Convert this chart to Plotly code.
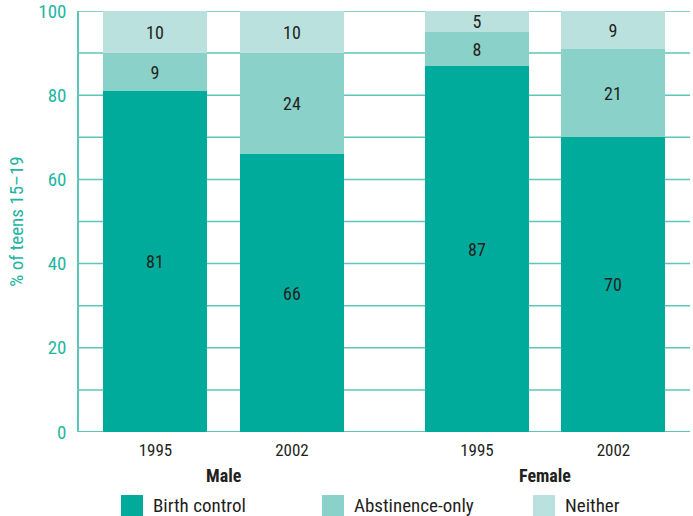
import plotly.graph_objects as go

years = ["1995", "2002", "1995", "2002"]
groups = ["Male", "Female"]
birth_control = [81, 66, 87, 70]
abstinence_only = [9, 24, 8, 21]
neither = [10, 10, 5, 9]
series_names = ["Birth control", "Abstinence-only", "Neither"]
y_ticks = [0, 20, 40, 60, 80, 100]

# layout constants
xpos = [0, 1, 2.355, 3.355]
colors = ["#00ab9b", "#8ad2c9", "#bae1de"]
teal = "#1fb5a3"
grid = "#5cc6b8"
FONT = "Liberation Sans Narrow, Roboto Condensed, Arial Narrow, Roboto, sans-serif"

fig = go.Figure()
for name, vals, col in zip(series_names, [birth_control, abstinence_only, neither], colors):
    fig.add_trace(go.Bar(
        x=xpos, y=vals, name=name, marker=dict(color=col, line=dict(width=0)),
        width=0.762, text=[str(v) for v in vals], textposition="inside",
        insidetextanchor="middle", textangle=0,
        insidetextfont=dict(color="#231f20", size=18, family=FONT),
        showlegend=False, hoverinfo="skip"))

fig.update_layout(
    barmode="stack", width=693, height=516,
    margin=dict(l=79, r=3, t=11, b=84, autoexpand=False),
    plot_bgcolor="white", paper_bgcolor="white",
    font=dict(family=FONT),
    uniformtext=dict(minsize=18, mode="show"),
    bargap=0,
    xaxis=dict(range=[-0.56, 3.916], tickvals=xpos, ticktext=years,
               showgrid=False, zeroline=False, showline=False, ticks="",
               ticklabelstandoff=6, automargin=False,
               tickfont=dict(size=17, color="#231f20", family=FONT)),
    yaxis=dict(range=[0, 100], tickvals=y_ticks, ticktext=[str(t) for t in y_ticks],
               tickfont=dict(size=19, color=teal, family=FONT),
               showgrid=False, zeroline=False, showline=True, linecolor=grid, linewidth=1.5,
               ticks="", ticklen=0, ticklabelstandoff=7, ticklabeloverflow="allow",
               automargin=False,
               title=dict(text="% of teens 15\u201319", font=dict(size=19, color=teal, family=FONT), standoff=10)),
)

# gridlines every 10 (behind bars)
for v in range(10, 101, 10):
    fig.add_shape(type="line", xref="paper", yref="y", x0=0, x1=1, y0=v, y1=v,
                  line=dict(color=grid, width=1.5), layer="below")
fig.add_shape(type="line", xref="paper", yref="y", x0=0, x1=1, y0=0, y1=0,
              line=dict(color=grid, width=2), layer="below")

# group labels
for g, xc in zip(groups, [(xpos[0] + xpos[1]) / 2, (xpos[2] + xpos[3]) / 2]):
    fig.add_annotation(x=xc, xref="x", y=0, yref="paper", yshift=-43, text="<b>%s</b>" % g,
                       showarrow=False, font=dict(size=18, color="#231f20", family=FONT),
                       yanchor="middle")

# custom legend
H = 516 - 11 - 84
leg_x = [121, 322, 533]
for name, col, lx in zip(series_names, colors, leg_x):
    x0 = (lx - 79) / 611
    x1 = (lx + 22 - 79) / 611
    y1 = (516 - 84 - 495) / H
    y0 = (516 - 84 - 516) / H
    fig.add_shape(type="rect", xref="paper", yref="paper", x0=x0, x1=x1, y0=y0, y1=y1,
                  line=dict(width=0), fillcolor=col)
    fig.add_annotation(x=(lx + 30 - 79) / 611, xref="paper", y=(516 - 84 - 506) / H, yref="paper",
                       text=name, showarrow=False, xanchor="left", yanchor="middle",
                       font=dict(size=19, color="#231f20", family=FONT))

fig.write_html("out.html")
